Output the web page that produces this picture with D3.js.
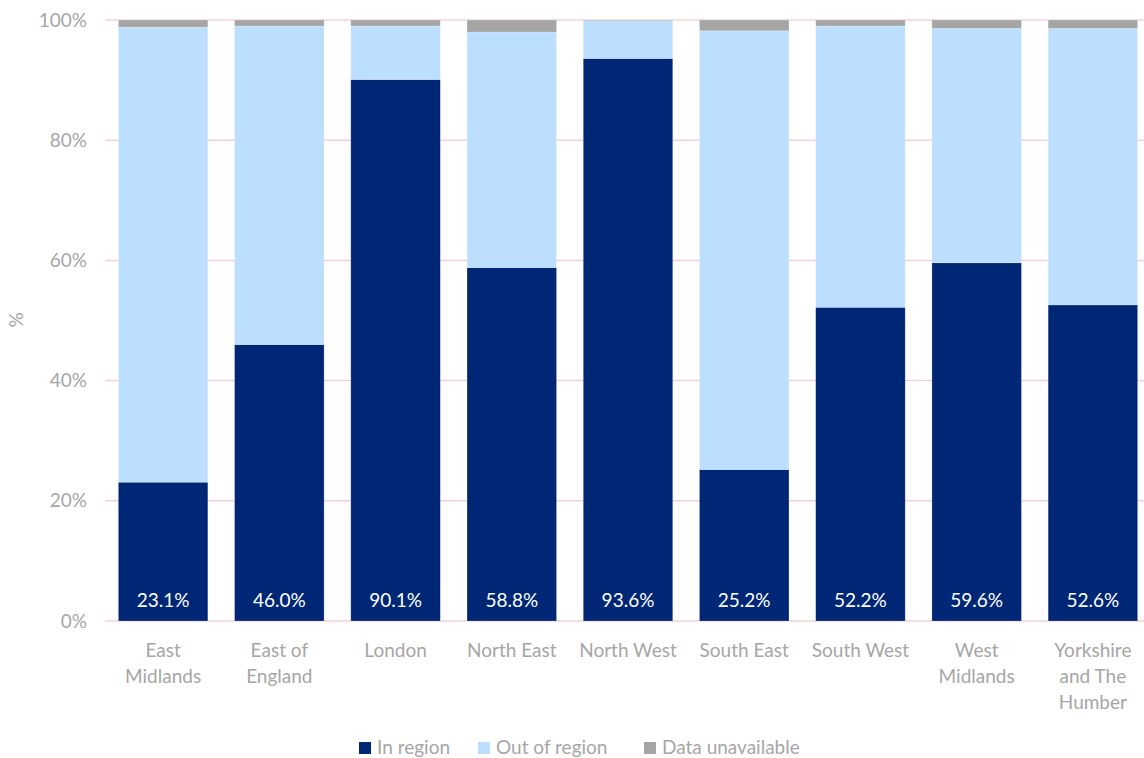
<!DOCTYPE html>
<html>
<head>
<meta charset="utf-8">
<script src="https://cdn.jsdelivr.net/npm/d3@7"></script>
<style>
  html, body { margin: 0; padding: 0; background: #fff; }
  svg { display: block; font-family: Lato, "Open Sans", sans-serif; }
</style>
</head>
<body>
<svg id="chart" width="1144" height="758"></svg>
<script>
// Share of placements by region, stacked to 100%
const regions = ["East Midlands", "East of England", "London", "North East", "North West",
                 "South East", "South West", "West Midlands", "Yorkshire and The Humber"];
const regionLines = [["East", "Midlands"], ["East of", "England"], ["London"], ["North East"],
                     ["North West"], ["South East"], ["South West"], ["West", "Midlands"],
                     ["Yorkshire", "and The", "Humber"]];
const inRegion        = [23.1, 46.0, 90.1, 58.8, 93.6, 25.2, 52.2, 59.6, 52.6];
const outOfRegion     = [75.7, 53.0,  8.9, 39.2,  6.3, 73.0, 46.8, 39.0, 46.0];
const dataUnavailable = [ 1.2,  1.0,  1.0,  2.0,  0.1,  1.8,  1.0,  1.4,  1.4];
const seriesNames = ["In region", "Out of region", "Data unavailable"];
const seriesColors = ["#002776", "#bddfff", "#a5a5a5"];
const yTicks = [0, 20, 40, 60, 80, 100];

const FONT = 19;
const TEXT_GREY = "#a6a6a6";

const svg = d3.select("#chart");
const x = d3.scaleBand().domain(regions).range([105, 1151]).paddingInner(0.23).paddingOuter(0.115);
const y = d3.scaleLinear().domain([0, 100]).range([621, 20]);

const rows = regions.map((r, i) => ({
  region: r, "In region": inRegion[i], "Out of region": outOfRegion[i], "Data unavailable": dataUnavailable[i]
}));
const stacked = d3.stack().keys(seriesNames)(rows);

// gridlines
svg.append("g").selectAll("line").data(yTicks).join("line")
  .attr("x1", 105).attr("x2", 1144)
  .attr("y1", d => y(d)).attr("y2", d => y(d))
  .attr("stroke", "#f5d0d8").attr("stroke-width", 1.5);

// y axis labels
const yAxis = d3.axisLeft(y).tickValues(yTicks).tickFormat(d => d + "%").tickSize(0).tickPadding(0);
const yg = svg.append("g").attr("transform", "translate(87,0)").call(yAxis);
yg.select(".domain").remove();
yg.selectAll("text").attr("fill", TEXT_GREY).attr("font-size", FONT).attr("font-family", "Lato, sans-serif");

svg.append("text").attr("transform", "translate(23,320) rotate(-90)")
  .attr("text-anchor", "middle").attr("fill", TEXT_GREY).attr("font-size", FONT).text("%");

// bars
svg.append("g").selectAll("g").data(stacked).join("g")
  .attr("fill", (d, i) => seriesColors[i])
  .selectAll("rect").data(d => d).join("rect")
  .attr("x", d => x(d.data.region))
  .attr("width", x.bandwidth())
  .attr("y", d => y(d[1]))
  .attr("height", d => y(d[0]) - y(d[1]))
  .attr("stroke", "#ffffff").attr("stroke-opacity", 0.35).attr("stroke-width", 0.6);

// value labels inside the in-region segment
svg.append("g").selectAll("text").data(rows).join("text")
  .attr("x", d => x(d.region) + x.bandwidth() / 2)
  .attr("y", y(0) - 14)
  .attr("text-anchor", "middle").attr("fill", "#ffffff").attr("font-size", FONT)
  .text(d => d["In region"].toFixed(1) + "%");

// category labels
const cat = svg.append("g").selectAll("text").data(regions).join("text")
  .attr("x", d => x(d) + x.bandwidth() / 2)
  .attr("y", 657)
  .attr("text-anchor", "middle").attr("fill", TEXT_GREY).attr("font-size", FONT);
cat.selectAll("tspan").data((d, i) => regionLines[i]).join("tspan")
  .attr("x", function () { return d3.select(this.parentNode).attr("x"); })
  .attr("dy", (d, i) => i === 0 ? 0 : 26)
  .text(d => d);

// legend
const legendX = [359, 478, 644];
const lg = svg.append("g").selectAll("g").data(seriesNames).join("g")
  .attr("transform", (d, i) => `translate(${legendX[i]},742)`);
lg.append("rect").attr("width", 12).attr("height", 12).attr("fill", (d, i) => seriesColors[i]);
lg.append("text").attr("x", 18).attr("y", 12).attr("fill", TEXT_GREY).attr("font-size", FONT).text(d => d);
</script>
</body>
</html>
